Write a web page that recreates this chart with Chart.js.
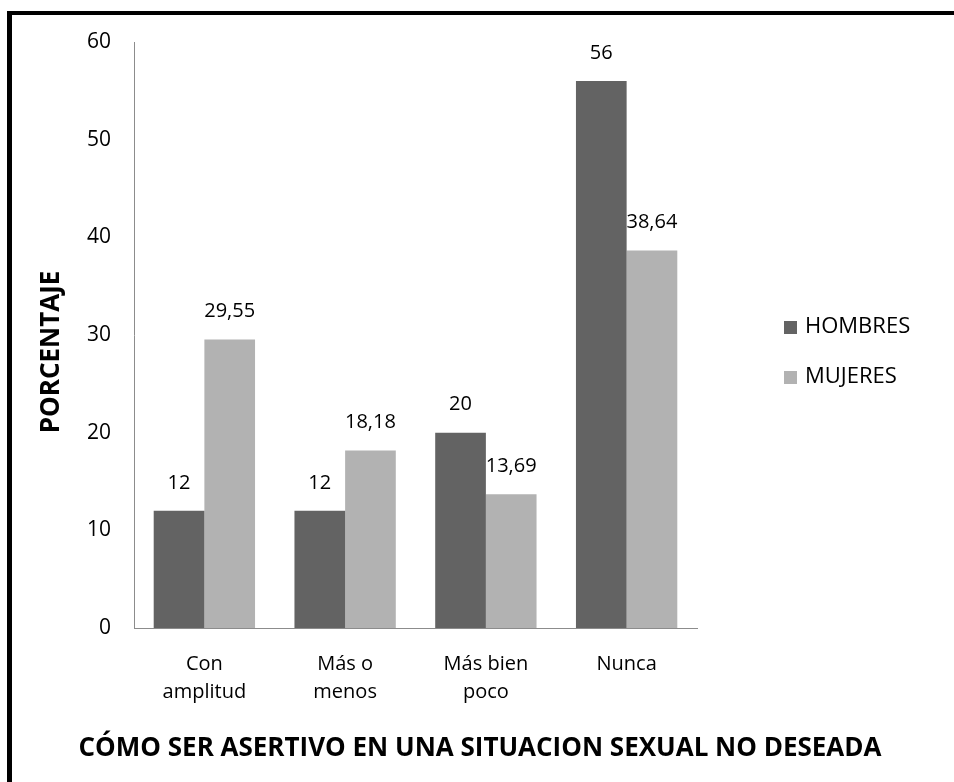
<!DOCTYPE html>
<html>
<head>
<meta charset="utf-8">
<script src="https://cdn.jsdelivr.net/npm/chart.js@4.4.0/dist/chart.umd.min.js"></script>
<style>
  body { margin: 0; background: #fff; }
  #frame {
    position: absolute; left: 7px; top: 11px; width: 1000px; height: 800px;
    border-top: 4px solid #000; border-left: 5px solid #000;
  }
  #graphCanvas { position: absolute; left: 0; top: 0; }
</style>
</head>
<body>
<div id="frame"></div>
<canvas id="graphCanvas" width="954" height="782"></canvas>
<script>
const categorias = [['Con', 'amplitud'], ['Más o', 'menos'], ['Más bien', 'poco'], 'Nunca'];
const hombres = [12, 12, 20, 56];
const mujeres = [29.55, 18.18, 13.69, 38.64];
const ticksY = [0, 10, 20, 30, 40, 50, 60];
const tituloX = 'CÓMO SER ASERTIVO EN UNA SITUACION SEXUAL NO DESEADA';
const tituloY = 'PORCENTAJE';

const fuente = '"Open Sans", Lato, sans-serif';

// etiquetas de valor encima de cada barra
const etiquetas = {
  id: 'etiquetas',
  afterDatasetsDraw(chart) {
    const ctx = chart.ctx;
    ctx.save();
    ctx.font = '20px ' + fuente;
    ctx.fillStyle = '#000';
    ctx.textAlign = 'center';
    ctx.textBaseline = 'middle';
    chart.data.datasets.forEach(function(ds, i) {
      chart.getDatasetMeta(i).data.forEach(function(bar, j) {
        let txt = String(ds.data[j]).replace('.', ',');
        ctx.fillText(txt, bar.x, bar.y - 28);
      });
    });
    ctx.restore();
  }
};

// leyenda a la derecha y titulos de ejes
const leyenda = {
  id: 'leyenda',
  afterDraw(chart) {
    const ctx = chart.ctx;
    ctx.save();
    ctx.font = '22px ' + fuente;
    ctx.textBaseline = 'middle';
    chart.data.datasets.forEach(function(ds, i) {
      let y = 327 + i * 50;
      ctx.fillStyle = ds.backgroundColor;
      ctx.fillRect(784, y - 6, 13, 13);
      ctx.fillStyle = '#000';
      ctx.fillText(ds.label, 805, y);
    });

    ctx.font = 'bold 26px ' + fuente;
    ctx.textAlign = 'center';
    ctx.fillText(tituloX, 480, 749);

    ctx.translate(52, 352);
    ctx.rotate(-Math.PI / 2);
    ctx.font = 'bold 26px ' + fuente;
    ctx.fillText(tituloY, 0, 0);
    ctx.restore();
  }
};

let graphTarget = document.getElementById('graphCanvas');
let barGraph = new Chart(graphTarget, {
  type: 'bar',
  data: {
    labels: categorias,
    datasets: [{
      label: 'HOMBRES',
      backgroundColor: '#636363',
      data: hombres
    }, {
      label: 'MUJERES',
      backgroundColor: '#b2b2b2',
      data: mujeres
    }]
  },
  options: {
    responsive: false,
    animation: false,
    categoryPercentage: 0.72,
    barPercentage: 1,
    layout: { padding: { top: 42, right: 257, bottom: 0, left: 0 } },
    plugins: {
      legend: { display: false },
      tooltip: { enabled: false }
    },
    scales: {
      x: {
        grid: { display: false, drawTicks: false },
        border: { display: true, color: '#8c8c8c', width: 1 },
        ticks: {
          color: '#000',
          font: { family: fuente, size: 20, lineHeight: 1.4 },
          padding: 22,
          maxRotation: 0
        },
        afterFit(scale) { scale.height = 154; }
      },
      y: {
        min: 0,
        max: 60,
        grid: { display: false, drawTicks: false },
        border: { display: true, color: '#8c8c8c', width: 1 },
        afterBuildTicks(scale) {
          scale.ticks = ticksY.map(function(v) { return { value: v }; });
        },
        ticks: {
          color: '#000',
          font: { family: fuente, size: 21 },
          padding: 23
        },
        afterFit(scale) { scale.width = 134; }
      }
    }
  },
  plugins: [etiquetas, leyenda]
});
</script>
</body>
</html>
